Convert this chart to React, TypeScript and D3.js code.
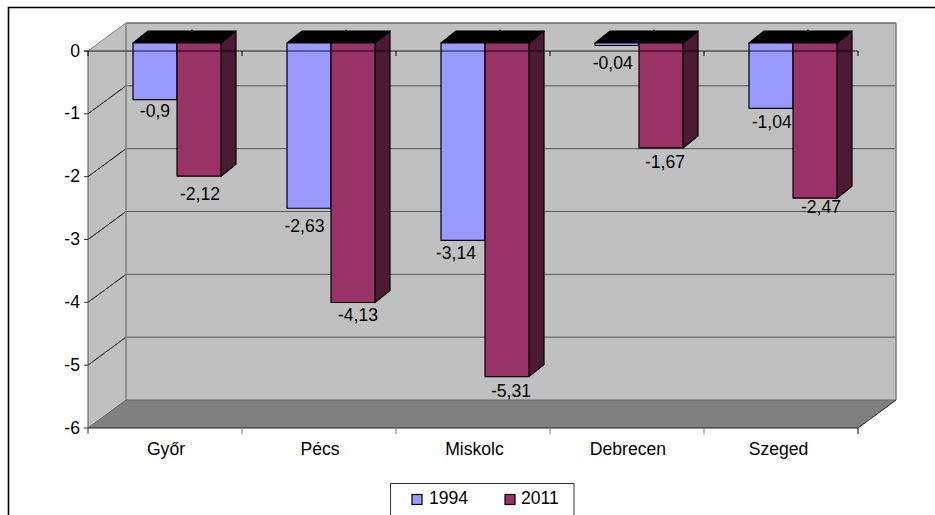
import React from "react";
import * as d3 from "d3";

const cities = ["Győr", "Pécs", "Miskolc", "Debrecen", "Szeged"];
const values1994 = [-0.9, -2.63, -3.14, -0.04, -1.04];
const values2011 = [-2.12, -4.13, -5.31, -1.67, -2.47];
const yTicks = [0, -1, -2, -3, -4, -5, -6];
const seriesNames = ["1994", "2011"];
const colours1994 = { front: "#9999ff", side: "#4d4d80" };
const colours2011 = { front: "#993366", side: "#4d1a33" };

// Oblique projection depth of the chart box and of the bars inside it.
const wallDx = 38;
const wallDy = -28;
const barFrontDx = 12;
const barFrontDy = -8;
const barDx = 15;
const barDy = -12;

const x = d3.scaleBand<string>().domain(cities).range([88, 858]).paddingInner(0).paddingOuter(0);
const y = d3.scaleLinear().domain([0, -6]).range([51, 428]);

const sub = d3.scaleBand<string>().domain(seriesNames).range([33, 121]);
const fmt = (v: number) => String(v).replace(".", ",");
const pts = (p: [number, number][]) => p.map((q) => q.join(",")).join(" ");

const labelFont = { fontFamily: "'Liberation Sans', Arial, sans-serif", fontSize: 17.6, fill: "#000" };

// Hand placement of the value labels so they stay clear of the neighbouring bars.
const labelDy1994 = [17.5, 23.7, 19, 23.8, 19.7];
const labelDy2011 = [23.8, 18.2, 20, 20, 14.8];
const labelDx1994 = [0, -4.5, -7, -4.3, 0.7];
const labelDx2011 = [1, 5, 4, 4, 6];
const categoryDx = [1, 1, 1.5, 1, -2.5];

function Bar({ cat, name, value, col }: { cat: string; name: string; value: number; col: { front: string; side: string } }) {
  const x0 = x(cat)! + sub(name)! + barFrontDx;
  const w = sub.bandwidth();
  const top = y(0) + barFrontDy;
  const bottom = y(value) + barFrontDy;
  return (
    <g stroke="#000" strokeWidth={1.2} strokeLinejoin="round">
      <polygon fill={col.side} points={pts([[x0 + w, top], [x0 + w + barDx, top + barDy], [x0 + w + barDx, bottom + barDy], [x0 + w, bottom]])} />
      <polygon fill="#000" points={pts([[x0, top], [x0 + barDx, top + barDy], [x0 + w + barDx, top + barDy], [x0 + w, top]])} />
      <rect x={x0} y={top} width={w} height={bottom - top} fill={col.front} />
    </g>
  );
}

export default function App() {
  const [xl, xr] = x.range();
  const yBottom = y(-6);
  const yZero = y(0);
  return (
    <svg width={935} height={515} style={{ position: "fixed", left: 0, top: 0, background: "#fff" }}>
      {/* outer chart frame, cropped on the right and bottom */}
      <path d="M8.5 515V7.5H935" fill="none" stroke="#000" strokeWidth={1.6} />

      {/* walls and floor */}
      <polygon fill="#c0c0c0" points={pts([[xl + wallDx, yZero + wallDy], [xr + wallDx, yZero + wallDy], [xr + wallDx, yBottom + wallDy], [xl + wallDx, yBottom + wallDy]])} />
      <polygon fill="#c0c0c0" points={pts([[xl, yZero], [xl + wallDx, yZero + wallDy], [xl + wallDx, yBottom + wallDy], [xl, yBottom]])} />
      <polygon fill="#808080" points={pts([[xl, yBottom], [xl + wallDx, yBottom + wallDy], [xr + wallDx, yBottom + wallDy], [xr, yBottom]])} />

      {/* gridlines run across the left wall and then the back wall */}
      {yTicks.slice(1, -1).map((t) => (
        <g key={t} fill="none">
          <line x1={xl} y1={y(t)} x2={xl + wallDx} y2={y(t) + wallDy} stroke="#000" strokeWidth={1} />
          <line x1={xl + wallDx} y1={y(t) + wallDy} x2={xr + wallDx} y2={y(t) + wallDy} stroke="#555" strokeWidth={1} />
        </g>
      ))}

      {/* box edges */}
      <line x1={xl + wallDx} y1={yZero + wallDy} x2={xr + wallDx} y2={yZero + wallDy} stroke="#333" strokeWidth={1} />
      <line x1={xl + wallDx} y1={yZero + wallDy} x2={xl + wallDx} y2={yBottom + wallDy} stroke="#808080" strokeWidth={1.5} />
      <line x1={xr + wallDx} y1={yZero + wallDy} x2={xr + wallDx} y2={yBottom + wallDy} stroke="#808080" strokeWidth={1.5} />
      <line x1={xl + wallDx} y1={yBottom + wallDy} x2={xr + wallDx} y2={yBottom + wallDy} stroke="#666" strokeWidth={1.2} />
      <line x1={xl} y1={yZero} x2={xl + wallDx} y2={yZero + wallDy} stroke="#808080" strokeWidth={1} />
      <line x1={xl} y1={yBottom} x2={xl + wallDx} y2={yBottom + wallDy} stroke="#666" strokeWidth={1} />
      <line x1={xr} y1={yBottom} x2={xr + wallDx} y2={yBottom + wallDy} stroke="#222" strokeWidth={1} />

      {/* bars, each pair with a small stub above its centre */}
      {cities.map((c, i) => (
        <g key={c}>
          <Bar cat={c} name="1994" value={values1994[i]} col={colours1994} />
          <Bar cat={c} name="2011" value={values2011[i]} col={colours2011} />
          <line x1={x(c)! + 104} y1={29.5} x2={x(c)! + 104} y2={32} stroke="#333" />
        </g>
      ))}

      {/* axes */}
      <line x1={xl} y1={yZero} x2={xl} y2={yBottom + 5} stroke="#555" strokeWidth={1} />
      <line x1={xl} y1={yBottom} x2={xr} y2={yBottom} stroke="#222" strokeWidth={1.2} />
      <line x1={xl - 4} y1={yZero} x2={xr} y2={yZero} stroke="#000" strokeWidth={1} opacity={0.85} />
      {yTicks.map((t) => (
        <g key={t}>
          <line x1={xl - 4} y1={y(t)} x2={xl} y2={y(t)} stroke="#333" />
          <text x={80} y={y(t) + 5.5} textAnchor="end" {...labelFont}>{t}</text>
        </g>
      ))}
      {[...cities.map((c) => x(c)!), xr].map((tx) => (
        <g key={tx}>
          <line x1={tx} y1={yZero} x2={tx} y2={yZero + 5} stroke="#000" />
          <line x1={tx} y1={yBottom} x2={tx} y2={yBottom + 6} stroke={tx === xr ? "#000" : "#808080"} />
        </g>
      ))}
      {cities.map((c, i) => (
        <text key={c} x={x(c)! + x.bandwidth() / 2 + categoryDx[i]} y={455} textAnchor="middle" {...labelFont}>{c}</text>
      ))}

      {/* value labels */}
      {cities.map((c, i) => (
        <g key={c} textAnchor="middle" {...labelFont}>
          <text x={x(c)! + sub("1994")! + sub.bandwidth() / 2 + barFrontDx + labelDx1994[i]} y={y(values1994[i]) + barFrontDy + labelDy1994[i]}>{fmt(values1994[i])}</text>
          <text x={x(c)! + sub("2011")! + sub.bandwidth() / 2 + barFrontDx + labelDx2011[i]} y={y(values2011[i]) + barFrontDy + labelDy2011[i]}>{fmt(values2011[i])}</text>
        </g>
      ))}

      {/* legend */}
      <path d="M390.5 515V483.5H574V515" fill="#fff" stroke="#333" strokeWidth={1} />
      <rect x={412} y={494.5} width={10} height={10} fill={colours1994.front} stroke="#000" strokeWidth={1.2} />
      <text x={429} y={504} {...labelFont}>{seriesNames[0]}</text>
      <rect x={505} y={494.5} width={10} height={10} fill={colours2011.front} stroke="#000" strokeWidth={1.2} />
      <text x={521} y={504} {...labelFont}>{seriesNames[1]}</text>
    </svg>
  );
}
